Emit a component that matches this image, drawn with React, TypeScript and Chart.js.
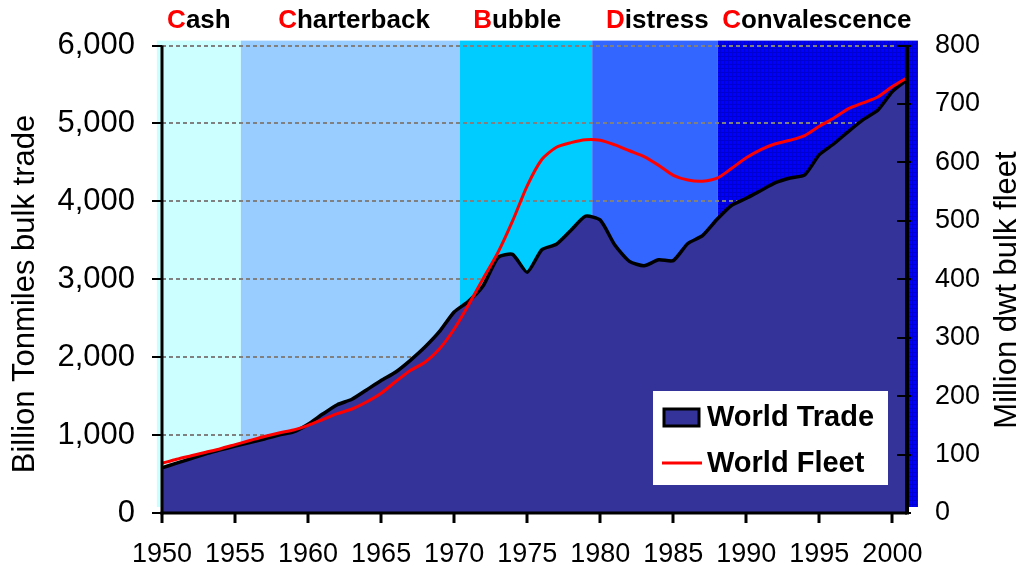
import React, { useEffect, useRef } from 'react';
import { Chart, registerables } from 'chart.js';

Chart.register(...registerables);

const years = [
  1950, 1951, 1952, 1953, 1954, 1955, 1956, 1957, 1958, 1959,
  1960, 1961, 1962, 1963, 1964, 1965, 1966, 1967, 1968, 1969,
  1970, 1971, 1972, 1973, 1974, 1975, 1976, 1977, 1978, 1979,
  1980, 1981, 1982, 1983, 1984, 1985, 1986, 1987, 1988, 1989,
  1990, 1991, 1992, 1993, 1994, 1995, 1996, 1997, 1998, 1999,
  2000, 2001,
];

// Billion tonmiles bulk trade (left axis)
const worldTrade = [
  580, 640, 700, 760, 810, 860, 905, 950, 1000, 1040,
  1140, 1270, 1390, 1460, 1580, 1700, 1810, 1960, 2130, 2330,
  2580, 2720, 2920, 3280, 3320, 3090, 3380, 3450, 3630, 3810,
  3760, 3440, 3230, 3175, 3250, 3240, 3460, 3560, 3770, 3950,
  4040, 4140, 4240, 4300, 4340, 4600, 4740, 4900, 5050, 5170,
  5410, 5560,
];

// Million dwt bulk fleet (right axis)
const worldFleet = [
  85, 92, 98, 104, 110, 117, 124, 131, 137, 142,
  150, 160, 170, 178, 190, 205, 225, 244, 258, 281,
  315, 357, 402, 446, 500, 560, 605, 626, 634, 639,
  638, 630, 620, 610, 595, 578, 570, 568, 573, 590,
  608, 622, 632, 638, 646, 662, 676, 692, 702, 712,
  730, 745,
];

const phaseNames = ['Cash', 'Charterback', 'Bubble', 'Distress', 'Convalescence'];
const phaseStarts = [1949.65, 1955.4, 1970.4, 1979.45, 1988.05];
const phaseEnd = 2001.75;
const phaseLabelYears = [1950.35, 1957.95, 1971.3, 1980.4, 1988.35];

const seriesNames = ['World Trade', 'World Fleet'];
const leftTitle = 'Billion Tonmiles bulk trade';
const rightTitle = 'Million dwt bulk fleet';

const FONT = '"Liberation Sans", Arial, sans-serif';
const PHASE_COLORS = ['#CCFFFF', '#99CCFF', '#00CCFF', '#3366FF', '#0000FF'];

function makePattern(ctx: CanvasRenderingContext2D) {
  const c = document.createElement('canvas');
  c.width = 4;
  c.height = 4;
  const p = c.getContext('2d')!;
  p.fillStyle = '#0000FF';
  p.fillRect(0, 0, 4, 4);
  p.fillStyle = '#0000D2';
  p.fillRect(0, 0, 1, 4);
  p.fillRect(0, 0, 4, 1);
  return ctx.createPattern(c, 'repeat') as CanvasPattern;
}

const bandsPlugin = {
  id: 'bands',
  beforeDraw(chart: any) {
    const { ctx, chartArea } = chart;
    const x = chart.scales.x;
    const top = chartArea.top - 5;
    const bottom = chartArea.bottom - 6;
    ctx.save();
    for (let i = 0; i < phaseStarts.length; i++) {
      const x0 = x.getPixelForValue(phaseStarts[i]);
      const x1 = x.getPixelForValue(i < phaseStarts.length - 1 ? phaseStarts[i + 1] : phaseEnd);
      ctx.fillStyle = i === phaseStarts.length - 1 ? makePattern(ctx) : PHASE_COLORS[i];
      ctx.fillRect(x0, top, x1 - x0, bottom - top);
    }
    // phase labels
    ctx.font = `bold 26px ${FONT}`;
    ctx.textBaseline = 'alphabetic';
    ctx.textAlign = 'left';
    for (let i = 0; i < phaseNames.length; i++) {
      const px = x.getPixelForValue(phaseLabelYears[i]);
      const first = phaseNames[i].charAt(0);
      const rest = phaseNames[i].slice(1);
      ctx.fillStyle = '#FF0000';
      ctx.fillText(first, px, 28);
      const w = ctx.measureText(first).width;
      ctx.fillStyle = '#000000';
      ctx.fillText(rest, px + w, 28);
    }
    // axis titles
    ctx.fillStyle = '#000';
    ctx.font = `31px ${FONT}`;
    ctx.textAlign = 'center';
    ctx.textBaseline = 'middle';
    ctx.save();
    ctx.translate(25, 294);
    ctx.rotate(-Math.PI / 2);
    ctx.fillText(leftTitle, 0, 0);
    ctx.restore();
    ctx.save();
    ctx.translate(1007, 290);
    ctx.rotate(-Math.PI / 2);
    ctx.fillText(rightTitle, 0, 0);
    ctx.restore();
    ctx.restore();
  },
};

const axesPlugin = {
  id: 'axesDraw',
  afterDatasetsDraw(chart: any) {
    const { ctx, chartArea } = chart;
    const { left, right, top, bottom } = chartArea;
    const x = chart.scales.x;
    const y = chart.scales.y;
    const y1 = chart.scales.y1;
    ctx.save();
    ctx.strokeStyle = '#000';
    // left axis
    ctx.lineWidth = 3;
    ctx.beginPath();
    ctx.moveTo(left, top);
    ctx.lineTo(left, bottom + 1.5);
    ctx.stroke();
    ctx.lineWidth = 2;
    y.ticks.forEach((t: any) => {
      const py = Math.round(y.getPixelForValue(t.value));
      ctx.beginPath();
      ctx.moveTo(left - 10, py);
      ctx.lineTo(left, py);
      ctx.stroke();
    });
    // bottom axis
    ctx.lineWidth = 3;
    ctx.beginPath();
    ctx.moveTo(left - 1.5, bottom);
    ctx.lineTo(right, bottom);
    ctx.stroke();
    x.ticks.forEach((t: any) => {
      const px = Math.round(x.getPixelForValue(t.value));
      ctx.beginPath();
      ctx.moveTo(px, bottom);
      ctx.lineTo(px, bottom + 10);
      ctx.stroke();
    });
    // right axis
    ctx.lineWidth = 4;
    ctx.beginPath();
    ctx.moveTo(right, top);
    ctx.lineTo(right, bottom + 1.5);
    ctx.stroke();
    ctx.lineWidth = 2;
    y1.ticks.forEach((t: any) => {
      const py = Math.round(y1.getPixelForValue(t.value));
      ctx.beginPath();
      ctx.moveTo(right - 10, py);
      ctx.lineTo(right + 4, py);
      ctx.stroke();
    });
    ctx.restore();
  },
};

const legendPlugin = {
  id: 'customLegend',
  afterDraw(chart: any) {
    const { ctx } = chart;
    ctx.save();
    ctx.fillStyle = '#FFFFFF';
    ctx.fillRect(653, 391, 235, 94);
    // swatch
    ctx.fillStyle = '#333399';
    ctx.fillRect(664, 409, 35, 17);
    ctx.strokeStyle = '#000';
    ctx.lineWidth = 3;
    ctx.strokeRect(664, 409, 35, 17);
    // red line
    ctx.strokeStyle = '#FF0000';
    ctx.lineWidth = 3;
    ctx.beginPath();
    ctx.moveTo(662, 463);
    ctx.lineTo(702, 463);
    ctx.stroke();
    ctx.fillStyle = '#000';
    ctx.font = `bold 29px ${FONT}`;
    ctx.textAlign = 'left';
    ctx.textBaseline = 'middle';
    ctx.fillText(seriesNames[0], 707, 418);
    ctx.fillText(seriesNames[1], 707, 464);
    ctx.restore();
  },
};

export default function App() {
  const ref = useRef<HTMLCanvasElement | null>(null);

  useEffect(() => {
    document.body.style.margin = '0';
    const canvas = ref.current!;
    const chart = new Chart(canvas, {
      type: 'line',
      data: {
        datasets: [
          {
            label: seriesNames[1],
            data: years.map((yr, i) => ({ x: yr, y: worldFleet[i] })),
            yAxisID: 'y1',
            borderColor: '#FF0000',
            borderWidth: 3,
            pointRadius: 0,
            tension: 0.25,
            fill: false,
            order: 0,
          },
          {
            label: seriesNames[0],
            data: years.map((yr, i) => ({ x: yr, y: worldTrade[i] })),
            yAxisID: 'y',
            borderColor: '#000000',
            borderWidth: 3.5,
            backgroundColor: '#333399',
            pointRadius: 0,
            tension: 0.2,
            fill: 'origin',
            order: 1,
          },
        ],
      },
      options: {
        responsive: false,
        animation: false,
        devicePixelRatio: 1,
        layout: { padding: { top: 41, left: 0, right: 0, bottom: 0 } },
        plugins: {
          legend: { display: false },
          tooltip: { enabled: false },
        },
        scales: {
          x: {
            type: 'linear',
            min: 1950,
            max: 2001,
            grid: { display: false, drawTicks: false },
            border: { display: false },
            ticks: {
              stepSize: 5,
              includeBounds: false,
              autoSkip: false,
              maxRotation: 0,
              padding: 25,
              color: '#000',
              font: { family: FONT, size: 27 },
              callback: (v: any) => String(v),
            },
            afterFit: (s: any) => {
              s.height = 61;
            },
          },
          y: {
            type: 'linear',
            position: 'left',
            min: 0,
            max: 6000,
            grid: {
              color: '#808080',
              lineWidth: 2,
              drawTicks: false,
            },
            border: { display: false, dash: [4, 3] },
            ticks: {
              stepSize: 1000,
              padding: 27,
              color: '#000',
              font: { family: FONT, size: 31 },
              callback: (v: any) => Number(v).toLocaleString('en-US'),
            },
            afterFit: (s: any) => {
              s.width = 162;
            },
          },
          y1: {
            type: 'linear',
            position: 'right',
            min: 0,
            max: 800,
            grid: { display: false, drawTicks: false },
            border: { display: false },
            ticks: {
              stepSize: 100,
              padding: 28,
              color: '#000',
              font: { family: FONT, size: 27 },
            },
            afterFit: (s: any) => {
              s.width = 115;
            },
          },
        },
      },
      plugins: [bandsPlugin, axesPlugin, legendPlugin],
    });
    return () => chart.destroy();
  }, []);

  return (
    <div style={{ width: 1022, height: 574 }}>
      <canvas ref={ref} width={1022} height={574} style={{ display: 'block', width: 1022, height: 574 }} />
    </div>
  );
}
